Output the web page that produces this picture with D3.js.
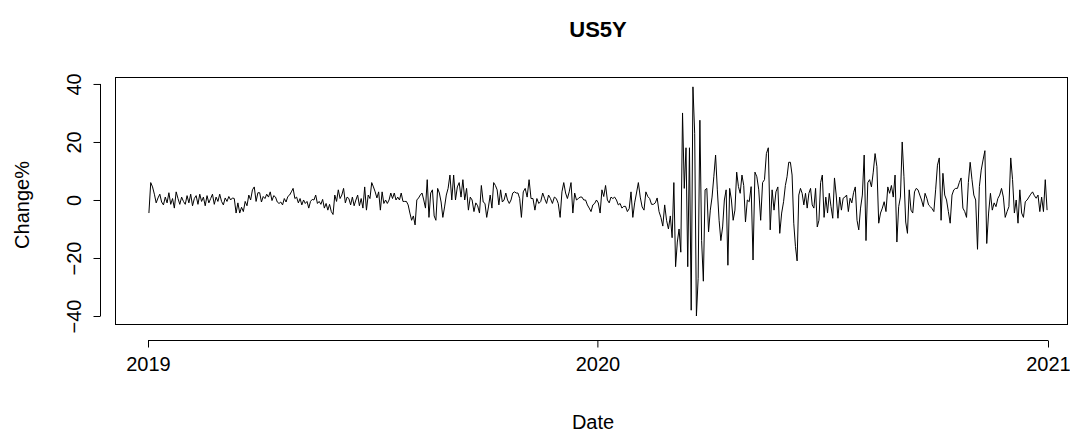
<!DOCTYPE html>
<html>
<head>
<meta charset="UTF-8">
<script src="https://d3js.org/d3.v7.min.js"></script>
<style>
    body { margin: 0; background: #fff; }
    text { font-family: 'Liberation Sans', Arial, sans-serif; fill: #000; }
</style>
</head>
<body>
<svg id="chart" width="1070" height="434"></svg>
<script>
// daily % change of the US 5Y yield, one inner array per month
var changes2019 = [
    [-4.5, 6, 4.5, 2, -1, 0.7, 2, -0.7, -1.7, 1, -1, 2.5, -1.5, 0.5, -2.8, 2.8, 0.5, -1.5, 1, -0.5, -1.5],
    [1.5, -1, 2, -2, 0.5, 1.5, -1.5, 2, -0.5, 1, -2, 1.5, -1, 0.5, 2, -1.5, 1, -0.5, 2],
    [-0.5, -1.7, 0.7, -0.5, 1.2, 0, 0.7, 0.5, -4.5, -1, -4.5, -2.5, -4, -0.5, -2, 1.7, 0, 3.5, 4.5, -0.5, 2.5],
    [2.5, -0.7, 1.2, 0.5, 2, 1, 2.8, -0.2, 1.5, 1, -0.7, -1.2, -0.7, -1.7, 0.5, -0.7, 1.2, 1.7, 2.8, 4, 0.5],
    [1, -1, 0.5, -1.7, 0, -1.2, -0.5, -2.8, -0.5, 0.2, 0, 1.7, -1.2, -0.5, -1.5, 0.2, -2.8, -1.2, -3.5, -1.5, -4, -5],
    [1.7, -0.5, 3.5, 0.5, 1.7, 4, -1, 1, 0.5, -1.7, 1, -2, 0, 1.7, -2, 0.5, -2.8, 4.5, -3.5, 1.7, 0.5],
    [6, 4.5, 2.8, 0.7, 2.8, -3.5, 2.8, -1.2, 0, -1.2, 0, 2.4, 0.5, 2.4, 0, 1, 0, 2.4, -0.5, -0.5, -0.5, -1.7],
    [-4.5, -7, -5.5, -8.6, 0, 0.7, 1.7, 2.4, 0, -2.8, 7, -6, 2.4, 3.5, -5.5, -7, 4, 2.4, -0.7, -6, -2.4, 1.7],
    [4, 8.6, 0, 8.6, 0, 4.5, 6, 1, 7, 0, 4, -3.5, 1, 0, -4, -1, -2, -4.5, 5, -0.7],
    [-1.2, -6, -2.4, 1.7, -2.8, 6, 5, 3.5, -1.7, 3.5, -0.7, 0, 2.4, 0, -1.2, 0, 2.4, 2.8, 2.4, 2.4, 0.5, -6],
    [2.8, 4, 1, 7, 0.5, 0.5, -3.5, 0.5, -1.2, -0.5, 2.4, 0.5, -1.2, 1.7, 0.5, -1.2, 1, 0.5, -1.2],
    [-6, 2.8, 6, 2.4, 0.5, 2.8, 6, -4.5, 2.4, 0, 0.5, 1, 1, 0, 0, -1.7, -2.8, -4, -1.7, -1.2, 0]
];
var changes2020 = [
    [-1, -4.5, 3.5, 1.2, 5, 0, -1, 1, 0.5, 1, 0, -1.7, -1.2, -2.8, -2.2, -2.2, -4, -3, 2.8, -6, -1],
    [2.4, 6, 1, -2.4, -3.5, 2.8, 1.2, 0.5, -1.5, -1.5, -1, 0.7, -4, -6, -9, -1.7, -7, -10, -5.5],
    [-13, 6, -23, -14.5, -10, -18, 30, 4, 18, -23, 18, -38, 39, 23, -40, -27, 27.5, -14, -28, 3.5, 4, -11],
    [-3.5, 1, 8, 15.5, 3.5, -7, -14, -9.3, 0, 3.5, -22.5, 4, 0, -7, -3.5, 9.6, 4.6, 2.3, 8.6, 5, -7.6],
    [0, -0.6, 4.6, -20.7, 9.6, 8, 3.5, -7, 6, 7, 16, 18, -10.3, 3.5, -3.5, 2.8, 4.5, -11.5, -4.5, -0.6],
    [5, 8, 13, 13, 8.6, -8, -16, -21, 1.7, 4, 2.3, -1.7, 2.3, -2.8, 2.3, 4, -1.7, -2.8, 4, -9.3, -7, 6],
    [8.6, -6, 1, -4.5, 2.3, -2.3, -6.3, 7.6, 1.7, -6.3, 1, -3.5, 0.6, 1, 1.7, -4, 0.6, -1, 2.5, 4.5, -7, -10.3],
    [-2.8, 1.7, 15.5, -14, 6, 7, 4.5, 9.6, 16, 11.5, -8, -4.5, -2.8, -0.6, -4, 4.5, 2.3, 5, 1, 8.6, -14.5],
    [-2.3, 1, 20, 8, -7.6, -11.5, 3.5, -3.5, -4.5, 2.8, 4, 3.5, 1.7, 0, -2.3, 2.3, 0.6, -1.7, -2.3, -3, -4],
    [3.5, 12, 14.5, -7, 9.2, 1.7, 0, -4, -8, 1.7, 3.5, 4, 4, 6, 7.6, -2.8, -4, -6, 6, 13, 7],
    [1.7, 0, -17, 4.6, 10.3, 13.8, 17, -15, -4.5, 2.3, -3.5, -1, -2.3, 0.5, 1.7, 4, 1, -6, -4, -2.3],
    [14.5, 7, -4.5, 0, -8, 3.5, -4.5, -6, -0.6, 0, 1, 2, 2.8, 1.5, 0.6, 1.7, -4, 1, -4, 7, -3.5]
];
var years = [2019, 2020];
var yTicks = [-40, -20, 0, 20, 40];
var xTickYears = [2019, 2020, 2021];

// spread each month's trading days across that month
var data = [];
[changes2019, changes2020].forEach(function (yearData, yi) {
    yearData.forEach(function (vals, m) {
        var start = new Date(years[yi], m, 1);
        var end = new Date(years[yi], m + 1, 1);
        var span = end - start;
        vals.forEach(function (v, i) {
            data.push({ date: new Date(+start + span * (i + 0.5) / vals.length), value: v });
        });
    });
});

var svg = d3.select("#chart");

var x = d3.scaleTime()
    .domain([new Date(2019, 0, 1), new Date(2021, 0, 1)])
    .range([148, 1048]);
var y = d3.scaleLinear()
    .domain([-43.1, 42.4])
    .range([325, 77]);

// plot box
svg.append("rect")
    .attr("x", 115.5).attr("y", 77.5)
    .attr("width", 952).attr("height", 247)
    .attr("fill", "none").attr("stroke", "#000");

var line = d3.line()
    .x(function (d) { return x(d.date); })
    .y(function (d) { return y(d.value); });

svg.append("path")
    .datum(data)
    .attr("d", line)
    .attr("fill", "none")
    .attr("stroke", "#000")
    .attr("stroke-width", 1);

// x axis, R style
var xAxis = svg.append("g")
    .attr("transform", "translate(0,340.5)")
    .call(d3.axisBottom(x)
        .tickValues(xTickYears.map(function (yr) { return new Date(yr, 0, 1); }))
        .tickFormat(d3.timeFormat("%Y"))
        .tickSizeOuter(0)
        .tickSize(7)
        .tickPadding(9));
xAxis.select(".domain").remove();
xAxis.append("line")
    .attr("x1", x(new Date(2019, 0, 1))).attr("x2", x(new Date(2021, 0, 1)))
    .attr("stroke", "#000");
xAxis.selectAll("text").style("font-size", "20px").attr("fill", "#000");
xAxis.selectAll(".tick line").attr("stroke", "#000");

// y axis
var yAxis = svg.append("g")
    .attr("transform", "translate(100.5,0)")
    .call(d3.axisLeft(y).tickValues(yTicks).tickSizeOuter(0).tickSize(7));
yAxis.select(".domain").remove();
yAxis.append("line")
    .attr("y1", y(-40)).attr("y2", y(40))
    .attr("stroke", "#000");
yAxis.selectAll(".tick line").attr("stroke", "#000");
yAxis.selectAll("text")
    .attr("x", null).attr("dy", null)
    .attr("transform", "translate(-20,0) rotate(-90)")
    .attr("text-anchor", "middle")
    .attr("fill", "#000")
    .style("font-size", "20px");

// titles
svg.append("text")
    .attr("x", 598).attr("y", 37)
    .attr("text-anchor", "middle")
    .style("font-size", "22px").style("font-weight", "bold")
    .text("US5Y");
svg.append("text")
    .attr("x", 593).attr("y", 429)
    .attr("text-anchor", "middle")
    .style("font-size", "20px")
    .text("Date");
svg.append("text")
    .attr("transform", "translate(29,205) rotate(-90)")
    .attr("text-anchor", "middle")
    .style("font-size", "20px")
    .text("Change%");
</script>
</body>
</html>
